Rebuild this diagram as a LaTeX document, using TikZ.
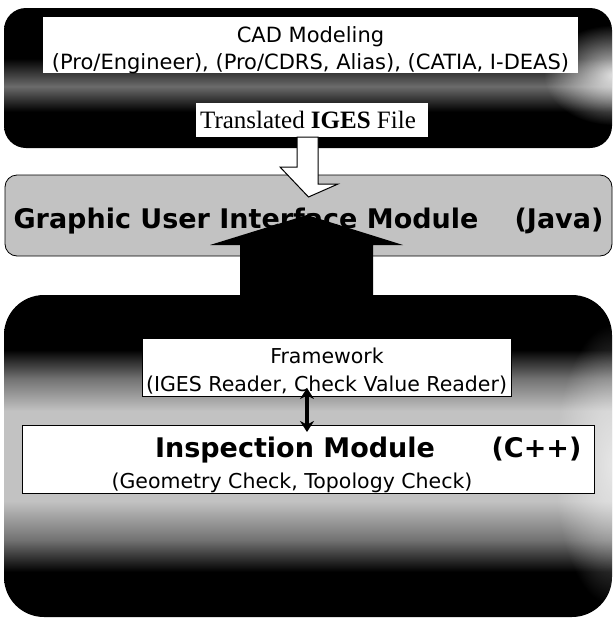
\documentclass[tikz,border=0pt]{standalone}
\usepackage{fontspec}
\usepackage{pdfrender}
\setmainfont{DejaVu Sans}
\newfontfamily\tnrfont{Liberation Serif}
\usetikzlibrary{arrows.meta,calc,shadings,fadings}
\pgfdeclareverticalshading{topband}{100bp}{color(0bp)=(black); color(38bp)=(black); color(47bp)=(black!58); color(57bp)=(black); color(100bp)=(black)}
\pgfdeclareverticalshading{botband}{100bp}{color(0bp)=(black); color(32bp)=(black); color(37bp)=(black!55); color(43bp)=(black!24); color(57bp)=(black!24); color(62bp)=(black!55); color(66.5bp)=(black); color(100bp)=(black)}
\tikzfading[name=glowfade, inner color=transparent!0, outer color=transparent!100]
\newcommand\halotext[1]{\textpdfrender{TextRenderingMode=FillStroke, LineWidth=1.3pt, StrokeColor=black!15, FillColor=black}{#1}}
\tikzset{
  darkbox/.style={inner sep=0pt, outer sep=0pt},
  whitebox/.style={fill=white, inner sep=0pt, outer sep=0pt},
  framedbox/.style={fill=white, draw=black, line width=0.8pt, inner sep=0pt, outer sep=0pt},
  txt/.style={inner sep=0pt, anchor=base},
  regtxt/.style={txt, font=\fontsize{20.5}{24}\selectfont},
  guitxt/.style={txt, font=\bfseries\fontsize{27}{32}\selectfont},
  insptxt/.style={txt, font=\bfseries\fontsize{27}{32}\selectfont},
  dblarrow/.style={line width=3.6pt, {Stealth[length=11pt,width=14pt]}-{Stealth[length=11pt,width=14pt]}},
}
\begin{document}
\begin{tikzpicture}[x=1pt,y=-1pt]
\useasboundingbox (0,0) rectangle (614,619);
\fill[white] (0,0) rectangle (614,619);
% top block
\node[darkbox, minimum width=608pt, minimum height=140pt, rounded corners=22pt, shading=topband] (top) at (308,78) {};
\begin{scope}
  \clip[rounded corners=22pt] (top.south west) rectangle (top.north east);
  \fill[white, path fading=glowfade, fill opacity=0.85] (614,75) ellipse [x radius=70, y radius=50];
\end{scope}
\node[whitebox, minimum width=535pt, minimum height=56pt] (cad) at (310.5,45) {};
\node[txt, font=\fontsize{21}{25}\selectfont] (cadt1) at (310.5,42) {CAD Modeling};
\node[txt, font=\fontsize{21}{25}\selectfont] (cadt2) at (310.5,69) {(Pro/Engineer), (Pro/CDRS, Alias), (CATIA, I-DEAS)};
\node[whitebox, minimum width=232pt, minimum height=34pt] (trans) at (312,120) {};
\node[txt, font=\tnrfont\fontsize{25}{29}\selectfont] (transt) at (308,128) {Translated \textbf{IGES} File};
% GUI block
\node[draw=black, line width=0.8pt, fill=black!24, minimum width=607pt, minimum height=81pt, rounded corners=12pt, inner sep=0pt, outer sep=0pt] (gui) at (308.5,215.5) {};
% bottom block
\node[darkbox, minimum width=608pt, minimum height=322pt, rounded corners=40pt, shading=botband] (bot) at (308,456) {};
\begin{scope}
  \clip[rounded corners=40pt] (bot.south west) rectangle (bot.north east);
  \fill[white, path fading=glowfade, fill opacity=0.6] (614,465) ellipse [x radius=60, y radius=140];
\end{scope}
% open arrow from Translated file to GUI
\draw[black, line width=1pt, fill=white, line join=miter]
  ($(trans.south)+(-15,0)$) -- ++(0,30) -- ++(-17,0) -- ($(trans.south)+(-3.5,60)$)
  -- ($(trans.south)+(26,47)$) -- ++(-20,0) -- ($(trans.south)+(6,0)$) -- cycle;
% big black arrow from bottom block to GUI
\fill[black]
  ($(bot.north)+(-68,1)$) -- ($(bot.north)+(-68,-50)$) -- ($(bot.north)+(-98,-50)$)
  -- ($(bot.north)+(-1,-80)$) -- ($(bot.north)+(95,-50)$) -- ($(bot.north)+(65,-50)$)
  -- ($(bot.north)+(65,1)$) -- cycle;
\node[guitxt] (guit) at (246,228) {\halotext{Graphic User Interface Module}};
\node[guitxt] (java) at (559,228) {\halotext{(Java)}};
% framework and inspection
\node[framedbox, minimum width=369pt, minimum height=58pt] (fw) at (326.5,367) {};
\node[regtxt] (fwt1) at (327,363) {Framework};
\node[regtxt] (fwt2) at (326.5,391) {(IGES Reader, Check Value Reader)};
\node[framedbox, minimum width=572pt, minimum height=68pt] (insp) at (308,459) {};
\node[insptxt] (inspt) at (295,457) {Inspection Module};
\node[insptxt] (cpp) at (536.5,457) {(C++)};
\node[regtxt] (inspt2) at (292,488) {(Geometry Check, Topology Check)};
\draw[dblarrow] ($(fw.south -| insp.north)+(-1,-8)$) -- ($(insp.north)+(-1,7)$);
\end{tikzpicture}
\end{document}
